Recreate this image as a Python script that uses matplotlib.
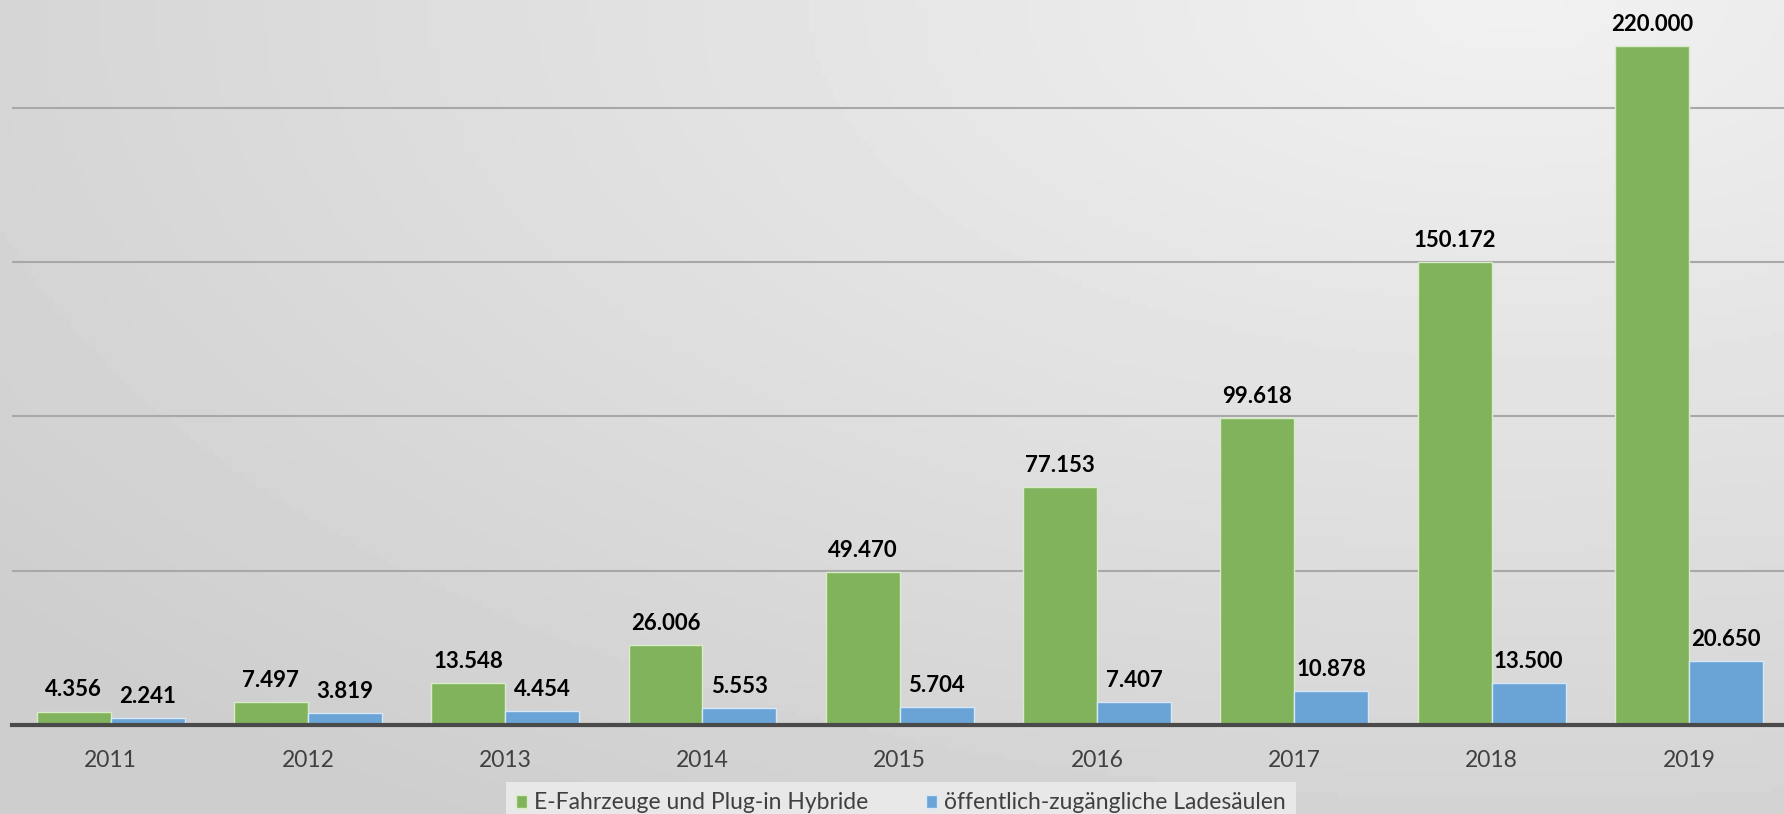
import numpy as np
import matplotlib.pyplot as plt
from matplotlib.patches import Patch

plt.rcParams['font.family'] = ['Lato', 'DejaVu Sans']

# data (German number format in labels)
years = ["2011", "2012", "2013", "2014", "2015", "2016", "2017", "2018", "2019"]
fahrzeuge = [4356, 7497, 13548, 26006, 49470, 77153, 99618, 150172, 220000]
ladesaeulen = [2241, 3819, 4454, 5553, 5704, 7407, 10878, 13500, 20650]
series_names = ["E-Fahrzeuge und Plug-in Hybride", "öffentlich-zugängliche Ladesäulen"]

green = "#80b35c"
blue = "#6aa3d6"


def de_fmt(v):
    return f"{v:,}".replace(",", ".")


fig = plt.figure(figsize=(17.84, 8.14), dpi=100)

# gray gradient background, lighter towards top right
bg = fig.add_axes([0, 0, 1, 1], zorder=-10)
gx, gy = np.meshgrid(np.linspace(0, 1, 300), np.linspace(0, 1, 150))
dist = np.sqrt(((0.85 - gx) * 1.0) ** 2 + ((1 - gy) * 0.9) ** 2)
shade = 0.945 - 0.14 * np.clip(dist / 1.1, 0, 1)
bg.imshow(shade, cmap="gray", vmin=0, vmax=1, aspect="auto", extent=[0, 1, 0, 1], origin="lower")
bg.axis("off")

ax = fig.add_axes([12 / 1784, 89 / 814, 1 - 12 / 1784 + 0.002, 725 / 814])
ax.patch.set_alpha(0)

x = np.arange(len(years))
w = 0.375
b1 = ax.bar(x - w / 2, fahrzeuge, w, color=green, edgecolor="#d8ecc8", linewidth=1, zorder=3)
b2 = ax.bar(x + w / 2, ladesaeulen, w, color=blue, edgecolor="#d6e8f7", linewidth=1, zorder=3)

for bars, vals in [(b1, fahrzeuge), (b2, ladesaeulen)]:
    for r, v in zip(bars, vals):
        ax.annotate(de_fmt(v), (r.get_x() + r.get_width() / 2, v), xytext=(0, 8),
                    textcoords="offset points", ha="center", va="bottom",
                    fontsize=16, fontweight="bold", color="black")

ax.set_xlim(-0.5, 8.5)
ax.set_ylim(0, 235000)
ax.set_yticks([50000, 100000, 150000, 200000])
ax.yaxis.grid(True, color="#a8a8a8", linewidth=1.5, zorder=0)
ax.set_axisbelow(True)
ax.tick_params(axis="y", left=False, labelleft=False)
ax.set_xticks(x)
ax.set_xticklabels(years, fontsize=16.5, color="#404040")
ax.tick_params(axis="x", length=0, pad=18)
for s in ["top", "right", "left"]:
    ax.spines[s].set_visible(False)
ax.spines["bottom"].set_color("#4a4a4a")
ax.spines["bottom"].set_linewidth(3)
ax.spines["bottom"].set_zorder(4)

handles = [Patch(facecolor=green, edgecolor="#d8ecc8"), Patch(facecolor=blue, edgecolor="#d6e8f7")]
leg = fig.legend(handles, series_names, loc="lower center", bbox_to_anchor=(0.505, -0.012),
                 ncol=2, frameon=True, fancybox=False, fontsize=16.5, handlelength=0.5,
                 handleheight=0.5, handletextpad=0.3, columnspacing=2.5, borderpad=0.45,
                 borderaxespad=0, labelcolor="#404040")
leg.get_frame().set_facecolor("#e8e8e8")
leg.get_frame().set_edgecolor("none")
leg.get_frame().set_alpha(1)

fig.savefig("out.png", dpi=100)
